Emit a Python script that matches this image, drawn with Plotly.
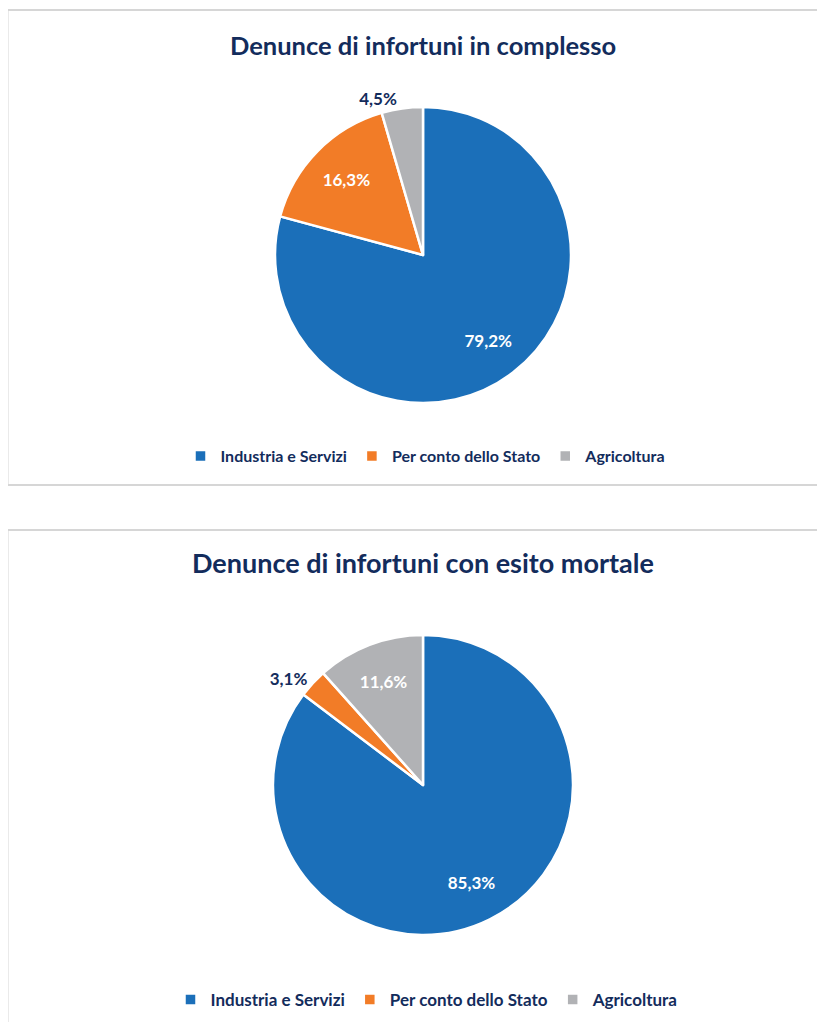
import plotly.graph_objects as go

categories = ["Industria e Servizi", "Per conto dello Stato", "Agricoltura"]
values_complesso = [79.2, 16.3, 4.5]
values_mortale = [85.3, 3.1, 11.6]
colors = ["#1B6FB9", "#F27C27", "#B1B2B5"]
title_complesso = "Denunce di infortuni in complesso"
title_mortale = "Denunce di infortuni con esito mortale"

NAVY = "#132C5C"
FONT = "Lato"
OFF = 8  # page body margin
W, H = 825 - OFF, 1022 - OFF


def fmt(v):
    return ("%.1f" % v).replace(".", ",") + "%"


def fx(x):
    return (x - OFF) / W


def fy(y):
    return 1 - (y - OFF) / H


def dom(x0, y0, x1, y1):
    return dict(x=[fx(x0), fx(x1)], y=[fy(y1), fy(y0)])


fig = go.Figure()

# pie labels are shared across pie traces in legends, so each chart gets
# its own label markup (bold tag vs bold legend font) to keep two legends
for vals, d, leg, labs in [
    (values_complesso, dom(275, 107, 571, 403), "legend", ["<b>%s</b>" % c for c in categories]),
    (values_mortale, dom(273, 635, 573, 935), "legend2", list(categories)),
]:
    # coloured slices
    fig.add_trace(go.Pie(
        labels=labs,
        values=vals,
        textinfo="none",
        marker=dict(colors=colors, line=dict(color="white", width=2.5)),
        sort=False, direction="clockwise", rotation=0,
        domain=d, legend=leg,
        hoverinfo="label+percent",
    ))
    # data labels (transparent ring so inside labels sit further out)
    positions = ["inside" if v > 10 else "outside" for v in vals]
    fig.add_trace(go.Pie(
        labels=labs,
        values=vals,
        hole=0.45,
        text=["<b>%s</b>" % fmt(v) for v in vals],
        textinfo="text",
        textposition=positions,
        insidetextorientation="horizontal",
        insidetextfont=dict(color="white", size=17, family=FONT),
        outsidetextfont=dict(color=NAVY, size=17, family=FONT),
        marker=dict(colors=["rgba(0,0,0,0)"] * 3, line=dict(width=0)),
        sort=False, direction="clockwise", rotation=0,
        domain=d, showlegend=False,
        hoverinfo="skip",
    ))

shapes = [
    dict(type="rect", xref="paper", yref="paper",
         x0=fx(7.5), x1=1.05, y0=fy(485), y1=fy(10),
         line=dict(color="#D6D6D6", width=2), fillcolor="rgba(0,0,0,0)"),
    dict(type="rect", xref="paper", yref="paper",
         x0=fx(7.5), x1=1.05, y0=-0.05, y1=fy(530),
         line=dict(color="#D6D6D6", width=2), fillcolor="rgba(0,0,0,0)"),
]

annotations = [
    dict(text="<b>%s</b>" % title_complesso, x=fx(423), y=fy(45),
         xref="paper", yref="paper", showarrow=False, xanchor="center", yanchor="middle",
         font=dict(family=FONT, size=25.5, color=NAVY)),
    dict(text="<b>%s</b>" % title_mortale, x=fx(423), y=fy(562),
         xref="paper", yref="paper", showarrow=False, xanchor="center", yanchor="middle",
         font=dict(family=FONT, size=27, color=NAVY)),
]

fig.update_layout(
    width=W, height=H,
    margin=dict(l=0, r=0, t=0, b=0),
    paper_bgcolor="white",
    plot_bgcolor="white",
    shapes=shapes,
    annotations=annotations,
    font=dict(family=FONT, color=NAVY),
    legend=dict(orientation="h", x=fx(426), y=fy(456), xanchor="center", yanchor="middle",
                font=dict(family=FONT, size=16, color=NAVY), itemwidth=30,
                bgcolor="rgba(0,0,0,0)"),
    legend2=dict(orientation="h", x=fx(427), y=fy(1000), xanchor="center", yanchor="middle",
                 font=dict(family=FONT, size=17, color=NAVY, weight="bold"), itemwidth=30,
                 bgcolor="rgba(0,0,0,0)"),
)

fig.write_html("out.html")
